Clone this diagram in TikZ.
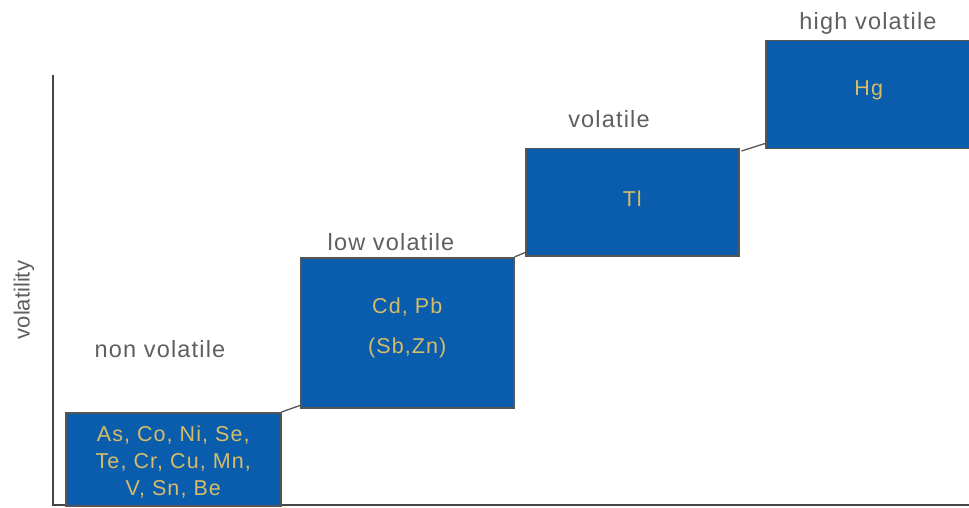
\documentclass[tikz,border=0pt]{standalone}
\usepackage{fontspec}
\setmainfont{Liberation Sans}
\newfontfamily\spacedsans[LetterSpace=5]{Liberation Sans}
\definecolor{boxblue}{RGB}{10,93,172}
\definecolor{boxedge}{RGB}{85,85,85}
\definecolor{elemtext}{RGB}{214,188,104}
\definecolor{labelgray}{RGB}{95,95,95}
\definecolor{axisgray}{RGB}{70,70,70}
\tikzset{
  levelbox/.style={draw=boxedge, line width=1.5pt, fill=boxblue, rectangle,
    anchor=north west, inner sep=0pt},
  elements/.style={text=elemtext, align=center, inner sep=0pt,
    font=\spacedsans\fontsize{21.5}{27}\selectfont},
  levellabel/.style={text=labelgray, font=\spacedsans\fontsize{23.5}{26}\selectfont, inner sep=0pt},
  stepline/.style={draw=boxedge, line width=1.3pt},
  axisline/.style={draw=axisgray, line width=1.5pt}
}
\begin{document}
\begin{tikzpicture}[x=1pt, y=-1pt]
  \clip (0,0) rectangle (969,508);
  \fill[white] (0,0) rectangle (969,508);

  % axes
  \coordinate (ytop) at (53,75);
  \coordinate (origin) at (53,505);
  \coordinate (xend) at (969,505);
  \draw[axisline] (ytop) -- (origin) -- (xend);
  \node[levellabel, font=\fontsize{22}{26}\selectfont, rotate=90] (ylab) at (24,300) {volatility};

  % volatility levels
  \node[levelbox, minimum width=215pt, minimum height=93pt] (b1) at (65,412) {};
  \node[levelbox, minimum width=213pt, minimum height=150pt] (b2) at (300,257) {};
  \node[levelbox, minimum width=213pt, minimum height=107pt] (b3) at (525,148) {};
  \node[levelbox, minimum width=206pt, minimum height=108pt] (b4) at (765,40) {};

  % elements in each level
  \node[elements] (t1) at ([yshift=-3pt]b1.center) {As, Co, Ni, Se,\\Te, Cr, Cu, Mn,\\V, Sn, Be};
  \node[elements, font=\spacedsans\fontsize{21.5}{40}\selectfont] (t2) at ([yshift=5pt]b2.center) {Cd, Pb\\(Sb,Zn)};
  \node[elements] (t3) at ([yshift=4pt]b3.center) {Tl};
  \node[elements] (t4) at ([yshift=4pt]b4.center) {Hg};

  % steps between levels
  \draw[stepline] (b1.north east) -- ([yshift=3pt]b2.south west);
  \draw[stepline] (b2.north east) -- ([yshift=4pt]b3.south west);
  \draw[stepline] ([xshift=2pt,yshift=-3pt]b3.north east) -- ([yshift=6pt]b4.south west);

  % level names
  \node[levellabel] (l1) at (160,349) {non volatile};
  \node[levellabel] (l2) at (391,242) {low volatile};
  \node[levellabel] (l3) at (609,119) {volatile};
  \node[levellabel] (l4) at (868,23) {high volatile};
\end{tikzpicture}
\end{document}
